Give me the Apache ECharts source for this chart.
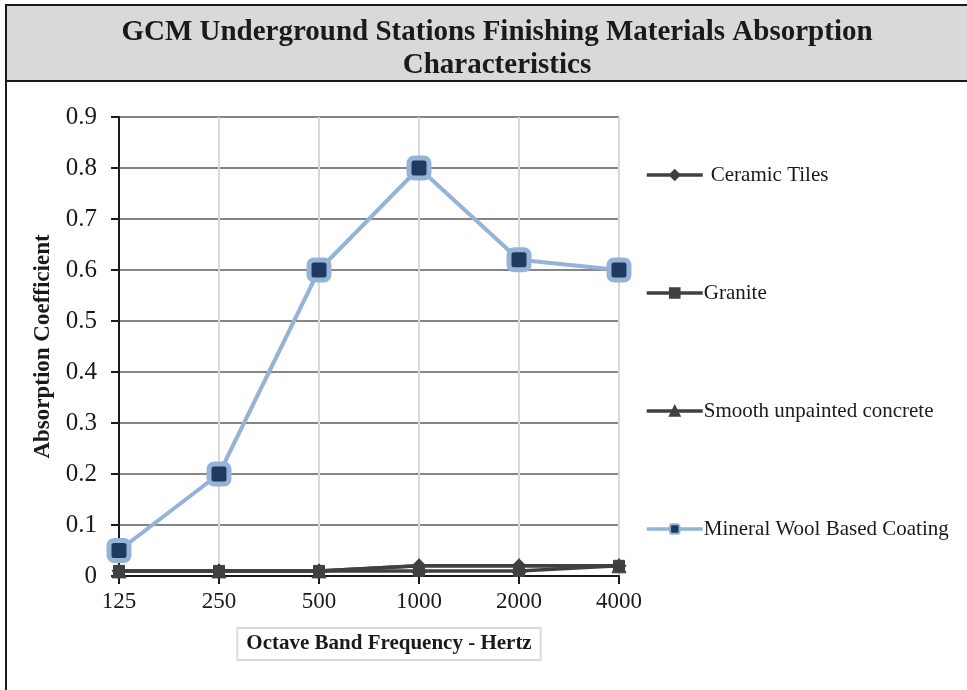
<!DOCTYPE html>
<html>
<head>
<meta charset="utf-8">
<script src="https://cdn.jsdelivr.net/npm/echarts@6/dist/echarts.min.js"></script>
<style>
  html, body { margin: 0; padding: 0; background: #fff; }
  #chart { width: 967px; height: 690px; }
</style>
</head>
<body>
<div id="chart"></div>
<script>
// Octave band centre frequencies (Hz)
const frequencies = ['125', '250', '500', '1000', '2000', '4000'];
const yTicks = [0, 0.9, 0.1];

// Absorption coefficients per material
const ceramicTiles = [0.01, 0.01, 0.01, 0.02, 0.02, 0.02];
const granite = [0.01, 0.01, 0.01, 0.01, 0.01, 0.02];
const smoothConcrete = [0.01, 0.01, 0.01, 0.02, 0.02, 0.02];
const mineralWool = [0.05, 0.2, 0.6, 0.8, 0.62, 0.6];

const serif = '"Liberation Serif", "Times New Roman", serif';
const dark = '#404040';

function darkSeries(name, data, symbol, size) {
  return {
    name: name,
    type: 'line',
    data: data,
    symbol: symbol,
    symbolSize: size,
    lineStyle: { color: dark, width: 3.5 },
    itemStyle: { color: dark, borderColor: dark, borderWidth: 1 },
    z: 3
  };
}

const chart = echarts.init(document.getElementById('chart'));
chart.setOption({
  animation: false,
  backgroundColor: '#fff',
  graphic: [
    { type: 'rect', shape: { x: 6, y: 5, width: 970, height: 76 },
      style: { fill: '#d9d9d9', stroke: '#1a1a1a', lineWidth: 2 }, z: -1 },
    { type: 'line', shape: { x1: 6, y1: 5, x2: 6, y2: 700 },
      style: { stroke: '#1a1a1a', lineWidth: 2 } },
    // boxed x-axis title
    { type: 'text', x: 389, y: 644,
      style: {
        text: 'Octave Band Frequency - Hertz',
        font: 'bold 21px ' + serif,
        fill: '#1a1a1a',
        align: 'center',
        verticalAlign: 'middle',
        borderColor: '#d9d9d9',
        borderWidth: 2,
        padding: [6, 9, 5, 9]
      } }
  ],
  title: {
    text: 'GCM Underground Stations Finishing Materials Absorption\nCharacteristics',
    left: 492,
    top: 11,
    textAlign: 'center',
    textStyle: { fontFamily: serif, fontWeight: 'bold', fontSize: 29, color: '#1a1a1a', lineHeight: 33 }
  },
  legend: {
    orient: 'vertical',
    left: 640,
    top: 159,
    itemGap: 96,
    itemWidth: 56,
    itemHeight: 12,
    lineStyle: { width: 3.5 },
    textStyle: { fontFamily: serif, fontSize: 21, lineHeight: 22, color: '#1a1a1a', padding: [0, 0, 0, -4] },
    data: [
      { name: 'Ceramic Tiles', textStyle: { padding: [0, 0, 0, 3] } },
      'Granite',
      'Smooth unpainted concrete',
      'Mineral Wool Based Coating'
    ]
  },
  grid: { left: 119, right: 348, top: 117, bottom: 114 },
  xAxis: {
    type: 'category',
    data: frequencies,
    boundaryGap: false,
    axisLine: { lineStyle: { color: '#1a1a1a', width: 2 } },
    axisTick: { alignWithLabel: true, length: 8, lineStyle: { color: '#1a1a1a', width: 2 } },
    axisLabel: { fontFamily: serif, fontSize: 23, color: '#1a1a1a', margin: 14 },
    splitLine: { show: true, lineStyle: { color: '#d9d9d9', width: 2 } }
  },
  yAxis: {
    type: 'value',
    min: yTicks[0],
    max: yTicks[1],
    interval: yTicks[2],
    name: 'Absorption Coefficient',
    nameLocation: 'middle',
    nameGap: 64,
    nameTextStyle: { fontFamily: serif, fontWeight: 'bold', fontSize: 23, color: '#1a1a1a' },
    axisLine: { show: true, lineStyle: { color: '#1a1a1a', width: 2 } },
    axisTick: { show: true, length: 8, lineStyle: { color: '#1a1a1a', width: 2 } },
    axisLabel: { fontFamily: serif, fontSize: 25, color: '#1a1a1a', margin: 22 },
    splitLine: { lineStyle: { color: '#868686', width: 2 } }
  },
  series: [
    darkSeries('Ceramic Tiles', ceramicTiles, 'diamond', 14),
    darkSeries('Granite', granite, 'rect', 11),
    darkSeries('Smooth unpainted concrete', smoothConcrete, 'triangle', 14),
    {
      name: 'Mineral Wool Based Coating',
      type: 'line',
      data: mineralWool,
      symbol: 'roundRect',
      symbolSize: 20,
      lineStyle: { color: '#95b3d7', width: 4 },
      itemStyle: { color: '#1f3a5f', borderColor: '#95b3d7', borderWidth: 5 },
      z: 4
    }
  ]
});
</script>
</body>
</html>
